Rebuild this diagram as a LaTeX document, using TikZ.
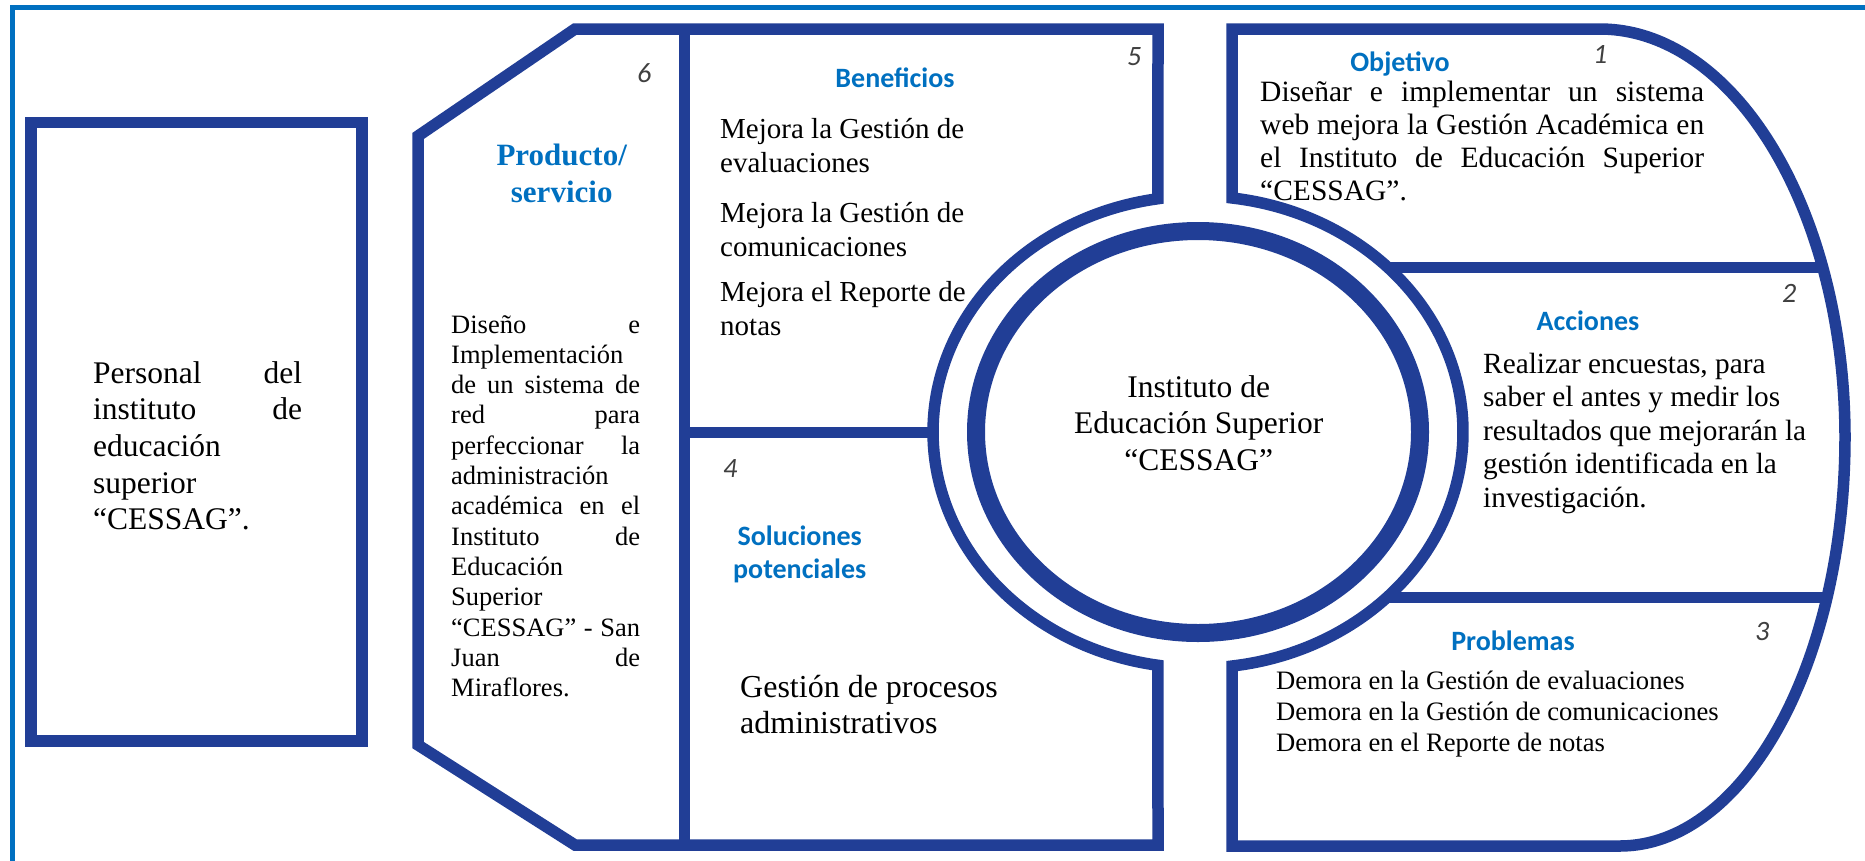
\documentclass[tikz,border=0pt]{standalone}
\usepackage{fontspec}
\setmainfont{Liberation Serif}
\newfontfamily\calibri{Carlito}
\definecolor{navy}{RGB}{33,62,150}
\definecolor{mblue}{RGB}{0,112,192}
\definecolor{numgray}{RGB}{64,64,64}
\newcommand\Lj[2]{\hbox to #1{#2}}
\newcommand\Ll[1]{\hbox{#1}}
\newcommand\Lc[1]{\hbox to 0pt{\hss#1\hss}}
\newcommand\Para[1]{\vtop{#1}}
\tikzset{
  bframe/.style={draw=mblue, line width=5pt},
  shp/.style={draw=navy, line width=11.5pt, line join=miter},
  divline/.style={draw=navy, line width=11pt},
  ringthick/.style={draw=navy, line width=18pt},
  txt/.style={inner sep=0pt, anchor=base west, text=black},
  head/.style={inner sep=0pt, anchor=base, text=mblue, font=\calibri\bfseries\fontsize{28}{33}\selectfont},
  num/.style={inner sep=0pt, anchor=base west, text=numgray, font=\calibri\itshape\fontsize{28}{28}\selectfont}
}
\begin{document}
\begin{tikzpicture}[x=1pt,y=-1pt]
\fill[white] (0,0) rectangle (1865,860);
\useasboundingbox (0,0) rectangle (1865,860);
% outer frame
\draw[bframe] (12,880) -- (12,7.5) -- (1880,7.5);
% left box
\draw[shp] (31,122.5) rectangle (362,741);
% left block (regions 6, 5, 4)
\draw[shp] (1158,845) -- (575,845) -- (418,745) -- (418,136) -- (575,29) -- (1158,29)
  -- plot[variable=\t, domain=0:162.6, samples=120] ({1198+265*cos(261.3-\t)}, {432+236*sin(261.3-\t)})
  -- cycle;
% right block (regions 1, 2, 3)
\draw[shp] (1232,846)
  -- plot[variable=\t, domain=0:90, samples=80] ({1620+225*cos(90-\t)}, {437.5+408.5*sin(90-\t)})
  -- plot[variable=\t, domain=1:90, samples=80] ({1600+245*cos(\t)}, {437.5-408.5*sin(\t)})
  -- (1232,29)
  -- plot[variable=\t, domain=0:165.26, samples=120] ({1198+265*cos(\t-82.63)}, {432+236*sin(\t-82.63)})
  -- cycle;
% dividers
\draw[divline] (684,29) -- (684,845);
\draw[divline] (684,432) -- (933,432);
\draw[divline] (1387.5,267) -- (1823,267);
\draw[divline] (1387.5,597) -- (1827,597);
% central ring
\draw[ringthick] (1198,432) ellipse [x radius=222, y radius=201];

% ---- texts ----
\node[txt, font=\fontsize{31.5}{36.7}\selectfont] (leftt) at (93,383)
  {\Para{\Lj{209pt}{Personal del}\Lj{209pt}{instituto de}\Ll{educación}\Ll{superior}\Ll{“CESSAG”.}}};

\node[txt, text=mblue, font=\bfseries\fontsize{31}{37}\selectfont] (prodh) at (561,165)
  {\Para{\Lc{Producto/}\Lc{servicio}}};
\node[num] (n6) at (637,82) {6};
\node[txt, font=\fontsize{26.5}{30.3}\selectfont] (prodt) at (451,333)
  {\Para{\Lj{189pt}{Diseño e}\Ll{Implementación}\Lj{189pt}{de un sistema de}\Lj{189pt}{red para}\Lj{189pt}{perfeccionar la}\Ll{administración}\Lj{189pt}{académica en el}\Lj{189pt}{Instituto de}\Ll{Educación}\Ll{Superior}\Lj{189pt}{“CESSAG” - San}\Lj{189pt}{Juan de}\Ll{Miraflores.}}};

\node[head] (benh) at (895,87) {Beneficios};
\node[num] (n5) at (1127,65) {5};
\node[txt, font=\fontsize{29}{34}\selectfont] (ben1) at (720,138)
  {\Para{\Ll{Mejora la Gestión de}\Ll{evaluaciones}}};
\node[txt, font=\fontsize{29}{34}\selectfont] (ben2) at (720,222)
  {\Para{\Ll{Mejora la Gestión de}\Ll{comunicaciones}}};
\node[txt, font=\fontsize{29}{34}\selectfont] (ben3) at (720,301)
  {\Para{\Ll{Mejora el Reporte de}\Ll{notas}}};

\node[num] (n4) at (723,477) {4};
\node[txt, text=mblue, font=\calibri\bfseries\fontsize{28}{33}\selectfont] (solh) at (799,545)
  {\Para{\Lc{Soluciones}\Lc{potenciales}}};
\node[txt, font=\fontsize{32}{36}\selectfont] (solt) at (740,697)
  {\Para{\Ll{Gestión de procesos}\Ll{administrativos}}};

\node[txt, font=\fontsize{31.5}{36.5}\selectfont] (centt) at (1198,397)
  {\Para{\Lc{Instituto de}\Lc{Educación Superior}\Lc{“CESSAG”}}};

\node[head] (objh) at (1400,71) {Objetivo};
\node[num] (n1) at (1593,63) {1};
\node[txt, font=\fontsize{29.5}{33.3}\selectfont] (objt) at (1260,101)
  {\Para{\Lj{444pt}{Diseñar e implementar un sistema}\Lj{444pt}{web mejora la Gestión Académica en}\Lj{444pt}{el Instituto de Educación Superior}\Ll{“CESSAG”.}}};

\node[head] (acch) at (1588,330) {Acciones};
\node[num] (n2) at (1782,302) {2};
\node[txt, font=\fontsize{29.3}{33.5}\selectfont] (acct) at (1483,373)
  {\Para{\Ll{Realizar encuestas, para}\Ll{saber el antes y medir los}\Ll{resultados que mejorarán la}\Ll{gestión identificada en la}\Ll{investigación.}}};

\node[head] (probh) at (1513,650) {Problemas};
\node[num] (n3) at (1755,640) {3};
\node[txt, font=\fontsize{26.6}{31}\selectfont] (probt) at (1276,689)
  {\Para{\Ll{Demora en la Gestión de evaluaciones}\Ll{Demora en la Gestión de comunicaciones}\Ll{Demora en el Reporte de notas}}};
\end{tikzpicture}
\end{document}
